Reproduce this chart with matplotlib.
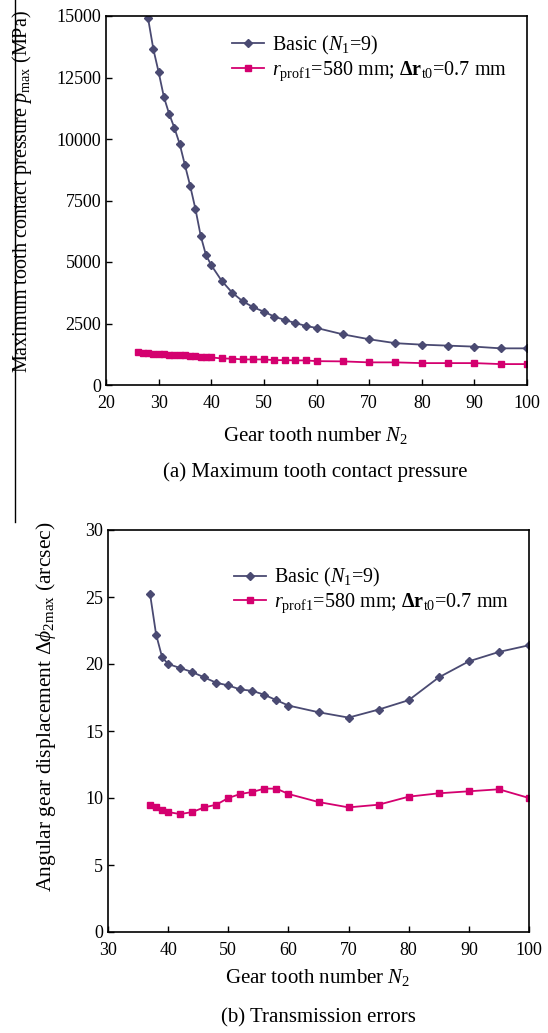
import matplotlib
matplotlib.use("Agg")
import matplotlib.pyplot as plt
from matplotlib.lines import Line2D

plt.rcParams['font.family'] = ['Liberation Serif', 'DejaVu Serif']
plt.rcParams['mathtext.fontset'] = 'custom'
plt.rcParams['mathtext.rm'] = 'Liberation Serif'
plt.rcParams['mathtext.it'] = 'Liberation Serif:italic'
plt.rcParams['mathtext.bf'] = 'Liberation Serif:bold'

# (a) maximum tooth contact pressure, MPa
n2_basic_a = [28, 29, 30, 31, 32, 33, 34, 35, 36, 37, 38, 39, 40, 42, 44, 46, 48, 50,
              52, 54, 56, 58, 60, 65, 70, 75, 80, 85, 90, 95, 100]
p_basic = [14900, 13650, 12720, 11710, 11020, 10450, 9800, 8940, 8090, 7150, 6060, 5280,
           4870, 4230, 3750, 3400, 3160, 2980, 2780, 2640, 2520, 2400, 2320, 2060, 1860,
           1700, 1640, 1600, 1560, 1490, 1490]
n2_mod_a = [26, 27, 28, 29, 30, 31, 32, 33, 34, 35, 36, 37, 38, 39, 40, 42, 44, 46, 48,
            50, 52, 54, 56, 58, 60, 65, 70, 75, 80, 85, 90, 95, 100]
p_mod = [1350, 1320, 1300, 1280, 1250, 1240, 1230, 1230, 1220, 1200, 1180, 1160, 1130,
         1120, 1120, 1080, 1070, 1040, 1040, 1040, 1010, 1010, 1000, 1000, 970, 960, 920,
         920, 890, 890, 890, 850, 850]

# (b) transmission errors, arcsec
n2_b = [37, 38, 39, 40, 42, 44, 46, 48, 50, 52, 54, 56, 58, 60, 65, 70, 75, 80, 85, 90, 95, 100]
te_basic = [25.2, 22.2, 20.5, 20.0, 19.7, 19.4, 19.0, 18.6, 18.4, 18.1, 18.0, 17.7, 17.3,
            16.9, 16.4, 16.0, 16.6, 17.3, 19.0, 20.2, 20.9, 21.4]
te_mod = [9.5, 9.3, 9.1, 8.95, 8.8, 8.95, 9.3, 9.5, 10.0, 10.3, 10.45, 10.7, 10.7, 10.3,
          9.7, 9.3, 9.5, 10.1, 10.35, 10.5, 10.65, 10.0]

lab_basic = 'Basic ($N_1$=9)'
lab_mod = r'$r_{\rm prof1}$=580 mm; $\mathbf{\Delta r}_{\rm t0}$=0.7 mm'
navy = '#4a4a72'
pink = '#d4006f'

W, H = 548, 1033
fig = plt.figure(figsize=(W / 100, H / 100), dpi=100)

def px_axes(l, t, r, b):
    return fig.add_axes([l / W, 1 - b / H, (r - l) / W, (b - t) / H])

def style(ax):
    ax.tick_params(direction='in', labelsize=13, length=4, width=1)
    ax.tick_params(axis='x', pad=7)
    for s in ax.spines.values():
        s.set_linewidth(1.2)

ax1 = px_axes(106, 16, 527, 385)
ax1.plot(n2_basic_a, p_basic, '-', color=navy, marker='D', ms=4.5, lw=1.3, label=lab_basic)
ax1.plot(n2_mod_a, p_mod, '-', color=pink, marker='s', ms=5, lw=1.3, label=lab_mod)
ax1.set_xlim(20, 100)
ax1.set_ylim(0, 15000)
ax1.set_xticks(range(20, 101, 10))
ax1.set_yticks(range(0, 15001, 2500))
style(ax1)
ax1.legend(loc='upper left', bbox_to_anchor=(0.27, 0.985), frameon=False, fontsize=14.5,
           handlelength=1.6, handletextpad=0.4, borderaxespad=0.2, labelspacing=0.12)

ax2 = px_axes(108, 530, 529, 932)
ax2.plot(n2_b, te_basic, '-', color=navy, marker='D', ms=4.5, lw=1.3, label=lab_basic)
ax2.plot(n2_b, te_mod, '-', color=pink, marker='s', ms=5, lw=1.3, label=lab_mod)
ax2.set_xlim(30, 100)
ax2.set_ylim(0, 30)
ax2.set_xticks(range(30, 101, 10))
ax2.set_yticks(range(0, 31, 5))
style(ax2)
ax2.legend(loc='upper left', bbox_to_anchor=(0.27, 0.94), frameon=False, fontsize=14.5,
           handlelength=1.6, handletextpad=0.4, borderaxespad=0.2, labelspacing=0.12)

fig.text(316 / W, 1 - 436 / H, 'Gear tooth number $N_2$', ha='center', va='center', fontsize=15)
fig.text(315 / W, 1 - 472 / H, '(a) Maximum tooth contact pressure', ha='center', va='center', fontsize=15)
fig.text(22 / W, 1 - 192 / H, r'Maximum tooth contact pressure $p_{\rm max}$ (MPa)',
         ha='center', va='center', rotation=90, fontsize=14.5)

fig.text(318 / W, 1 - 978 / H, 'Gear tooth number $N_2$', ha='center', va='center', fontsize=15)
fig.text(318 / W, 1 - 1018 / H, '(b) Transmission errors', ha='center', va='center', fontsize=15)
fig.text(46 / W, 1 - 707 / H, r'Angular gear displacement $\Delta\phi_{2\rm max}$ (arcsec)',
         ha='center', va='center', rotation=90, fontsize=15.5)

fig.add_artist(Line2D([15 / W, 15 / W], [1, 1 - 522 / H], transform=fig.transFigure,
                      color='black', lw=1))

fig.savefig('out.png', dpi=100)
